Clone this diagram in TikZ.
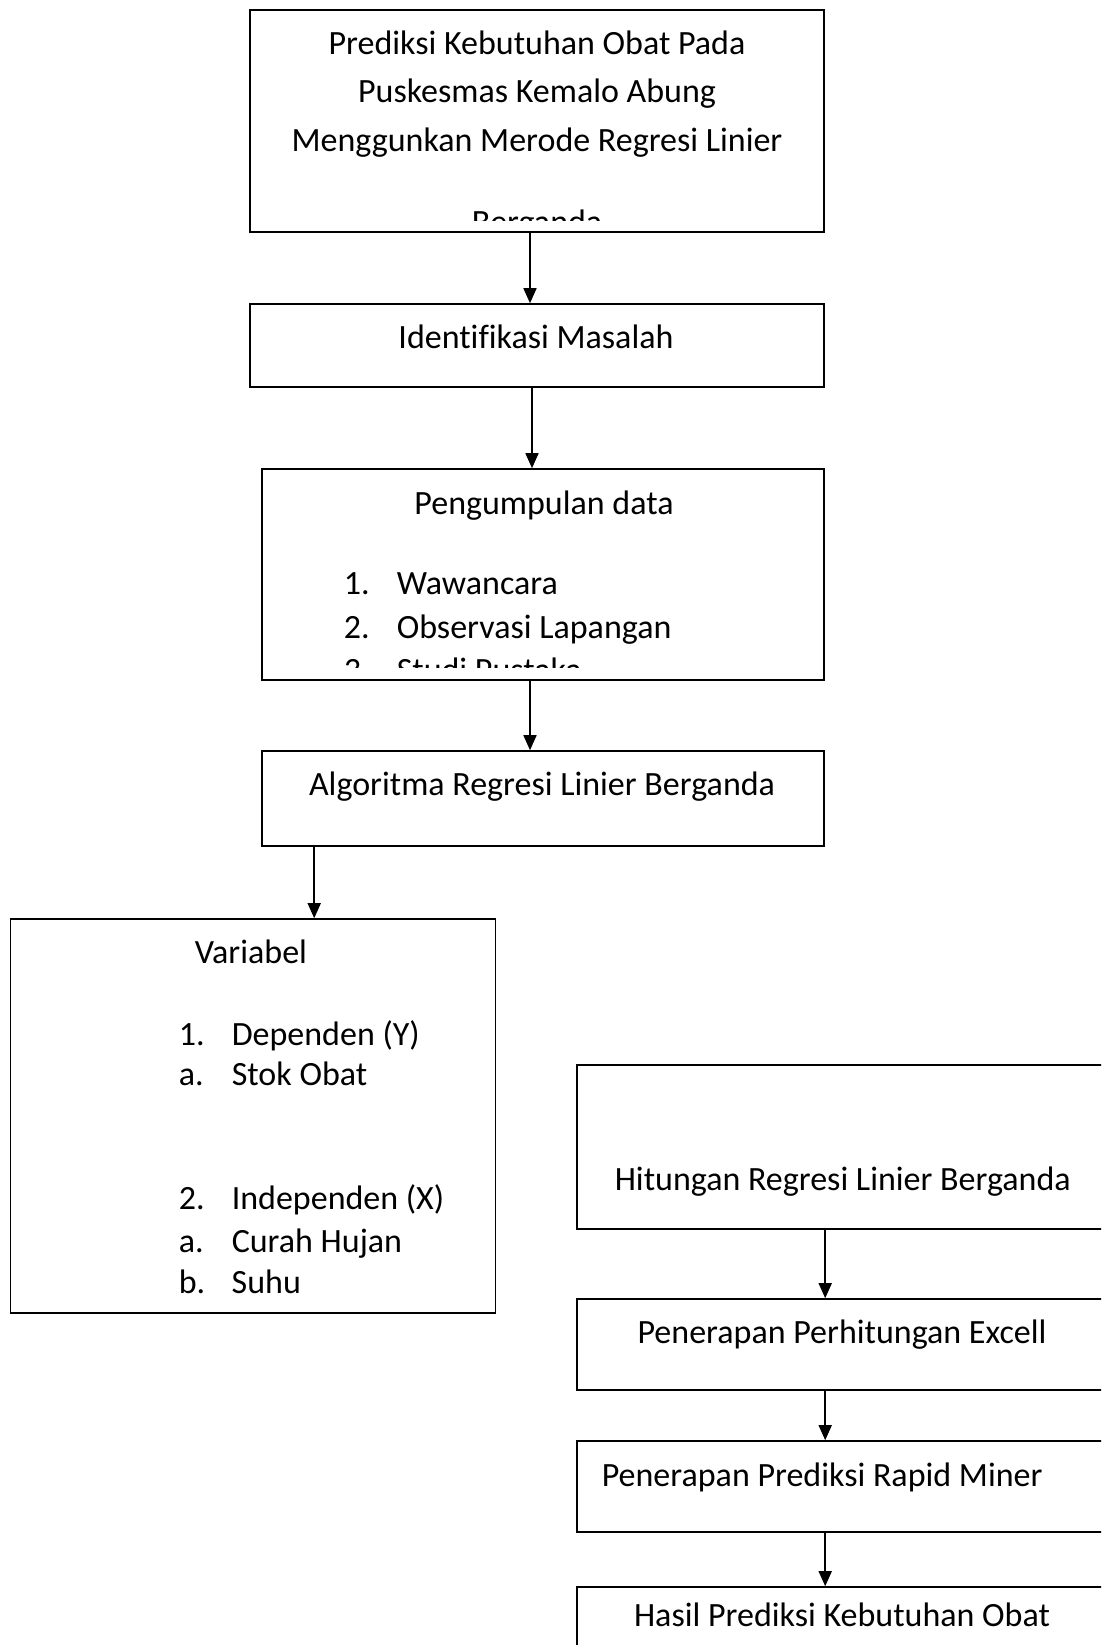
\documentclass[tikz,border=0pt]{standalone}
\usepackage{fontspec}
\setmainfont{Carlito}[Ligatures=NoCommon]
\usepackage{tikz}
\usetikzlibrary{arrows.meta,positioning}

\newcommand{\butir}[2]{\makebox[53pt][l]{#1}#2}

\begin{document}
\begin{tikzpicture}[->,>={Triangle[width=13pt,length=15pt]},x=1pt,y=-1pt,
                    line width=1.6pt]
	\tikzstyle{box}=[draw=black,rectangle,inner sep=0pt,line width=1.6pt]
	\tikzstyle{txt}=[inner sep=0pt,anchor=base,font=\fontsize{34}{40}\selectfont]
	\tikzstyle{kiri}=[txt,anchor=base west]

	\path[-,fill=white,use as bounding box] (0,0) rectangle (1101,1645);
	\clip (0,0) rectangle (1101,1645);

	% kolom kiri
	\node[box,minimum width=574pt,minimum height=222pt] (judul)  at (537,121)    {};
	\node[box,minimum width=574pt,minimum height=83pt]  (ident)  at (537,345.5)  {};
	\node[box,minimum width=562pt,minimum height=211pt] (kumpul) at (543,574.5)  {};
	\node[box,minimum width=562pt,minimum height=95pt]  (algo)   at (543,798.5)  {};
	\node[box,minimum width=485pt,minimum height=394pt] (var)    at (253,1116)   {};

	% kolom kanan
	\node[box,minimum width=600pt,minimum height=164pt] (hitung) at (877,1147)   {};
	\node[box,minimum width=600pt,minimum height=91pt]  (excel)  at (877,1344.5) {};
	\node[box,minimum width=600pt,minimum height=91pt]  (rapid)  at (877,1486.5) {};
	\node[box,minimum width=600pt,minimum height=100pt] (hasil)  at (877,1637)   {};

	% teks
	\begin{scope}
		\clip (judul.north west) rectangle ([yshift=12pt]judul.south east);
		\node[txt] (j1) at (537,55)  {Prediksi Kebutuhan Obat Pada};
		\node[txt] (j2) at (537,103) {Puskesmas Kemalo Abung};
		\node[txt] (j3) at (537,152) {Menggunkan Merode Regresi Linier};
		\node[txt] (j4) at (537,234) {Berganda};
	\end{scope}
	\node[txt] (t-ident) at (536,348) {Identifikasi Masalah};
	\node[txt] (t-kumpul) at (544,514) {Pengumpulan data};
	\begin{scope}
		\clip (kumpul.north west) rectangle ([yshift=13pt]kumpul.south east);
		\node[kiri] (k1) at (343,594) {\butir{1.}{Wawancara}};
		\node[kiri] (k2) at (343,638) {\butir{2.}{Observasi Lapangan}};
		\node[kiri] (k3) at (343,681) {\butir{3.}{Studi Pustaka}};
	\end{scope}
	\node[txt] (t-algo) at (542,795) {Algoritma Regresi Linier Berganda};
	\node[kiri] (t-var) at (194,963) {Variabel};
	\node[kiri] (v1) at (178,1045) {\butir{1.}{Dependen (Y)}};
	\node[kiri] (v2) at (178,1085) {\butir{a.}{Stok Obat}};
	\node[kiri] (v3) at (178,1209) {\butir{2.}{Independen (X)}};
	\node[kiri] (v4) at (178,1252) {\butir{a.}{Curah Hujan}};
	\node[kiri] (v5) at (178,1293) {\butir{b.}{Suhu}};
	\node[kiri] (t-hitung) at (614,1190) {Hitungan Regresi Linier Berganda};
	\node[txt] (t-excel) at (842,1343) {Penerapan Perhitungan Excell};
	\node[kiri] (t-rapid) at (601,1486) {Penerapan Prediksi Rapid Miner};
	\node[txt] (t-hasil) at (842,1626) {Hasil Prediksi Kebutuhan Obat};

	% panah
	\draw ([xshift=-7pt]judul.south)   -- ([xshift=-7pt]ident.north);
	\draw ([xshift=-5pt]ident.south)   -- ([xshift=-11pt]kumpul.north);
	\draw ([xshift=-13pt]kumpul.south) -- ([xshift=-13pt]algo.north);
	\draw ([xshift=53pt]algo.south west) -- ([xshift=53pt]algo.south west |- var.north);
	\draw ([xshift=249pt]hitung.south west) -- ([xshift=249pt]excel.north west);
	\draw ([xshift=249pt]excel.south west)  -- ([xshift=249pt]rapid.north west);
	\draw ([xshift=249pt]rapid.south west)  -- ([xshift=249pt]hasil.north west);
\end{tikzpicture}
\end{document}
